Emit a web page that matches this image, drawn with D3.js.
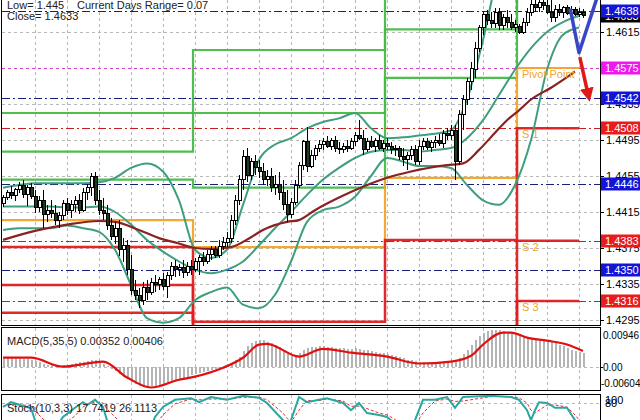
<!DOCTYPE html>
<html><head><meta charset="utf-8">
<script src="https://cdn.jsdelivr.net/npm/d3@7"></script>
<style>
html,body{margin:0;padding:0;background:#fff;}
svg{display:block;font-family:"Liberation Sans",Arial,sans-serif;}
</style></head><body>
<svg id="chart" width="640" height="420"></svg>
<script>
// ---------------- DATA ----------------
const openP = [1.4425,1.4431,1.4437,1.4433,1.4440,1.4444,1.4434,1.4442,1.4432,1.4420,
1.4428,1.4412,1.4417,1.4413,1.4406,1.4411,1.4424,1.4417,1.4423,1.4428,
1.4417,1.4437,1.4442,1.4455,1.4428,1.4417,1.4413,1.4400,1.4388,1.4397,
1.4373,1.4378,1.4351,1.4328,1.4322,1.4317,1.4331,1.4326,1.4337,1.4334,
1.4340,1.4332,1.4344,1.4355,1.4351,1.4353,1.4348,1.4355,1.4351,1.4360,
1.4364,1.4360,1.4368,1.4373,1.4367,1.4377,1.4381,1.4386,1.4406,1.4428,
1.4451,1.4477,1.4456,1.4471,1.4464,1.4460,1.4451,1.4455,1.4442,1.4446,
1.4437,1.4423,1.4412,1.4426,1.4445,1.4467,1.4493,1.4466,1.4478,1.4486,
1.4490,1.4493,1.4488,1.4495,1.4486,1.4484,1.4488,1.4486,1.4493,1.4500,
1.4497,1.4484,1.4493,1.4488,1.4495,1.4486,1.4491,1.4488,1.4484,1.4486,
1.4477,1.4473,1.4478,1.4484,1.4471,1.4488,1.4493,1.4487,1.4492,1.4495,
1.4491,1.4502,1.4500,1.4506,1.4471,1.4523,1.4540,1.4560,1.4573,1.4597,
1.4620,1.4634,1.4628,1.4624,1.4637,1.4622,1.4631,1.4626,1.4620,1.4621,
1.4615,1.4626,1.4637,1.4646,1.4642,1.4648,1.4644,1.4637,1.4631,1.4640,
1.4637,1.4642,1.4636,1.4640,1.4635,1.4637];
const highP = [1.4434,1.4440,1.4444,1.4442,1.4448,1.4451,1.4445,1.4447,1.4440,1.4433,
1.4440,1.4423,1.4428,1.4423,1.4415,1.4428,1.4431,1.4428,1.4433,1.4435,
1.4442,1.4446,1.4458,1.4460,1.4440,1.4431,1.4423,1.4408,1.4404,1.4406,
1.4386,1.4384,1.4367,1.4340,1.4331,1.4337,1.4340,1.4342,1.4345,1.4343,
1.4347,1.4348,1.4360,1.4362,1.4357,1.4362,1.4360,1.4362,1.4364,1.4367,
1.4371,1.4373,1.4377,1.4377,1.4384,1.4387,1.4393,1.4412,1.4434,1.4456,
1.4484,1.4486,1.4475,1.4478,1.4473,1.4469,1.4462,1.4464,1.4456,1.4460,
1.4451,1.4440,1.4431,1.4451,1.4471,1.4495,1.4510,1.4484,1.4490,1.4495,
1.4497,1.4500,1.4497,1.4500,1.4493,1.4492,1.4495,1.4497,1.4504,1.4517,
1.4506,1.4497,1.4500,1.4497,1.4501,1.4495,1.4497,1.4493,1.4490,1.4488,
1.4486,1.4482,1.4488,1.4490,1.4495,1.4497,1.4497,1.4495,1.4500,1.4502,
1.4506,1.4508,1.4512,1.4512,1.4528,1.4545,1.4564,1.4582,1.4604,1.4623,
1.4637,1.4640,1.4637,1.4642,1.4642,1.4635,1.4640,1.4635,1.4628,1.4624,
1.4631,1.4642,1.4651,1.4655,1.4653,1.4657,1.4651,1.4651,1.4645,1.4646,
1.4644,1.4645,1.4644,1.4643,1.4642,1.4641];
const lowP = [1.4421,1.4428,1.4430,1.4427,1.4436,1.4431,1.4422,1.4430,1.4414,1.4415,
1.4397,1.4404,1.4408,1.4401,1.4397,1.4406,1.4412,1.4408,1.4415,1.4413,
1.4415,1.4428,1.4433,1.4423,1.4412,1.4406,1.4395,1.4384,1.4380,1.4366,
1.4360,1.4345,1.4323,1.4317,1.4308,1.4312,1.4317,1.4323,1.4326,1.4328,
1.4328,1.4320,1.4340,1.4343,1.4344,1.4342,1.4344,1.4345,1.4348,1.4345,
1.4355,1.4357,1.4362,1.4364,1.4364,1.4373,1.4376,1.4381,1.4401,1.4423,
1.4440,1.4448,1.4451,1.4456,1.4453,1.4445,1.4444,1.4437,1.4434,1.4428,
1.4417,1.4404,1.4408,1.4423,1.4442,1.4462,1.4460,1.4464,1.4473,1.4482,
1.4484,1.4486,1.4484,1.4482,1.4480,1.4481,1.4482,1.4484,1.4488,1.4495,
1.4478,1.4482,1.4486,1.4482,1.4484,1.4482,1.4484,1.4480,1.4477,1.4473,
1.4466,1.4462,1.4473,1.4467,1.4467,1.4484,1.4484,1.4482,1.4486,1.4488,
1.4486,1.4495,1.4495,1.4451,1.4467,1.4506,1.4534,1.4551,1.4564,1.4593,
1.4612,1.4623,1.4620,1.4620,1.4617,1.4617,1.4620,1.4617,1.4615,1.4613,
1.4613,1.4622,1.4633,1.4637,1.4637,1.4640,1.4635,1.4626,1.4626,1.4633,
1.4631,1.4634,1.4633,1.4633,1.4632,1.4631];
const closeP = [1.4431,1.4437,1.4433,1.4440,1.4444,1.4434,1.4442,1.4432,1.4420,1.4428,
1.4412,1.4417,1.4413,1.4406,1.4411,1.4424,1.4417,1.4423,1.4428,1.4417,
1.4437,1.4442,1.4455,1.4428,1.4417,1.4413,1.4400,1.4388,1.4397,1.4373,
1.4378,1.4351,1.4328,1.4322,1.4317,1.4331,1.4326,1.4337,1.4334,1.4340,
1.4332,1.4344,1.4355,1.4351,1.4353,1.4348,1.4355,1.4351,1.4360,1.4364,
1.4360,1.4368,1.4373,1.4367,1.4377,1.4381,1.4386,1.4406,1.4428,1.4451,
1.4477,1.4456,1.4471,1.4464,1.4460,1.4451,1.4455,1.4442,1.4446,1.4437,
1.4423,1.4412,1.4426,1.4445,1.4467,1.4493,1.4466,1.4478,1.4486,1.4490,
1.4493,1.4488,1.4495,1.4486,1.4484,1.4488,1.4486,1.4493,1.4500,1.4497,
1.4484,1.4493,1.4488,1.4495,1.4486,1.4491,1.4488,1.4484,1.4486,1.4477,
1.4473,1.4478,1.4484,1.4471,1.4488,1.4493,1.4487,1.4492,1.4495,1.4491,
1.4502,1.4500,1.4506,1.4471,1.4523,1.4540,1.4560,1.4575,1.4597,1.4620,
1.4634,1.4628,1.4624,1.4637,1.4622,1.4631,1.4626,1.4620,1.4623,1.4615,
1.4626,1.4637,1.4646,1.4642,1.4648,1.4644,1.4637,1.4631,1.4640,1.4637,
1.4642,1.4636,1.4640,1.4635,1.4637,1.4633];

// Bollinger bands (read at every 4th bar)
const bbIdx = [0,4,8,12,16,20,24,28,32,36,40,44,48,52,56,60,64,68,72,76,80,84,88,92,96,100,104,108,112,116,120,124,128,132,136,140,144];
const bbUpper = [1.4442,1.4445,1.4447,1.4447,1.4447,1.4447,1.4448,1.4453,1.4464,1.4469,1.4460,1.4428,1.4373,1.4364,1.4373,1.4423,1.4473,1.4490,1.4497,1.4508,1.4515,1.4519,1.4525,1.4508,1.4497,1.4498,1.4500,1.4502,1.4506,1.4540,1.4606,1.4684,1.4717,1.4720,1.4715,1.4705,1.4695];
const bbMiddle = [1.4421,1.4421,1.4421,1.4421,1.4420,1.4420,1.4421,1.4415,1.4401,1.4384,1.4371,1.4360,1.4351,1.4347,1.4351,1.4360,1.4378,1.4397,1.4415,1.4434,1.4451,1.4464,1.4475,1.4482,1.4484,1.4484,1.4482,1.4484,1.4486,1.4497,1.4517,1.4545,1.4573,1.4597,1.4615,1.4626,1.4633];
const bbLower = [1.4395,1.4397,1.4397,1.4397,1.4400,1.4397,1.4393,1.4373,1.4334,1.4297,1.4292,1.4297,1.4317,1.4326,1.4331,1.4312,1.4308,1.4323,1.4360,1.4404,1.4417,1.4421,1.4432,1.4455,1.4475,1.4471,1.4466,1.4466,1.4464,1.4445,1.4428,1.4423,1.4445,1.4495,1.4573,1.4612,1.4620];

// Moving average
const maIdx = [0,8,16,24,28,34,39,44,48,52,57,62,65,71,74,78,84,90,96,102,111,115,119,123,126,129,132,137,143];
const maVal = [1.4384,1.4394,1.4401,1.4405,1.4404,1.4395,1.4386,1.4380,1.4375,1.4374,1.4376,1.4387,1.4395,1.4404,1.4406,1.4417,1.4431,1.4443,1.4453,1.4460,1.4467,1.4469,1.4484,1.4503,1.4517,1.4528,1.4540,1.4553,1.4571];

// Daily pivot levels (4 days)
const dayBounds = [-0.75, 47.5, 95.5, 128.5, 144];
const R3 = [1.4525, 1.4595, 1.4690, 1.4760];
const R2 = [1.4482, 1.4525, 1.4618, 1.4710];
const R1 = [1.4451, 1.4442, 1.4564, 1.4675];
const PP = [1.4406, 1.4376, 1.4453, 1.4575];
const S1 = [1.4376, 1.4293, 1.4384, 1.4508];
const S2 = [1.4334, 1.4230, 1.4270, 1.4383];
const S3 = [1.4303, 1.4180, 1.4220, 1.4316];

// Horizontal marker lines
const navyLevels = [1.4638, 1.4542, 1.4446, 1.4350];
const redLevels = [1.4508, 1.4383, 1.4316];
const pivotLevel = [1.4575];

// Price axis
const priceTicks = [1.4615, 1.4575, 1.4535, 1.4495, 1.4455, 1.4415, 1.4375, 1.4335, 1.4295];
const bidPrice = 1.4633;

// Forecast arrows (bar index, price)
const blueArrowIdx = [141.8, 144, 148.8];
const blueArrowPrice = [1.4641, 1.4592, 1.4657];
const redArrowIdx = [144.2, 146.3];
const redArrowPrice = [1.4587, 1.4545];

// MACD
const macdMain = [0.0020,0.0021,0.0022,0.0022,0.0021,0.0020,0.0019,0.0017,
0.0014,0.0011,0.0008,0.0005,0.0003,0.0002,0.0002,0.0003,0.0005,0.0007,0.0009,0.0011,0.0013,0.0015,0.0017,0.0016,0.0013,
0.0008,0.0002,-0.0005,-0.0012,
-0.0019,-0.0026,-0.0033,-0.0040,-0.0046,
-0.0050,-0.0052,-0.0052,-0.0051,-0.0049,-0.0047,-0.0045,
-0.0042,-0.0038,-0.0035,-0.0032,-0.0029,
-0.0026,-0.0022,-0.0019,-0.0016,-0.0013,
-0.0011,-0.0009,-0.0007,-0.0005,-0.0002,
0.0002,0.0008,0.0016,0.0026,
0.0040,0.0052,0.0060,0.0066,0.0070,
0.0068,0.0064,0.0060,0.0055,0.0050,0.0042,
0.0032,0.0028,0.0030,0.0036,
0.0044,0.0049,0.0050,0.0051,0.0052,
0.0052,0.0051,0.0050,0.0049,0.0048,0.0047,0.0046,
0.0046,0.0047,0.0046,0.0044,0.0042,0.0040,0.0038,0.0036,0.0034,
0.0032,0.0030,0.0028,0.0025,0.0021,0.0018,0.0016,0.0014,0.0012,0.0011,0.0010,
0.0010,0.0011,0.0012,0.0013,0.0013,0.0014,0.0013,
0.0022,0.0032,0.0044,0.0056,0.0068,0.0078,0.0086,
0.0091,0.0094,0.0095,0.0094,0.0092,0.0090,
0.0088,0.0085,0.0082,0.0080,0.0077,0.0074,0.0072,0.0070,0.0068,
0.0066,0.0064,0.0060,0.0056,0.0052,0.0048,0.0044,0.0040,0.0037,0.00352];
const sigIdx = [0,7,15,25,31,37,44,48,55,60,64,66,74,80,87,96,104,112,117,120,125,127,131,136,141,145];
const sigVal = [0.0023,0.0023,0.0000,0.0013,-0.0028,-0.0054,-0.0034,-0.0026,-0.0003,0.0023,0.0057,0.0059,0.0026,0.0046,0.0036,0.0026,0.0008,0.0013,0.0028,0.0057,0.0088,0.0088,0.0075,0.0067,0.0057,0.00406];

// Stochastic
const stIdx = [0,2,7,8,10,13,15,18,20,21,23,25,26,29,34,37,38,40,43,47,49,52,56,60,64,66,70,71,72,74,76,79,81,85,87,89,91,94,96,97,99,101,103,105,108,111,113,115,122,127,129,131,132,133,134,136,138,141,143,145];
const stMain = [70,82,67,37,20,15,45,68,82,75,88,70,37,15,8,20,45,70,88,92,82,95,88,98,93,80,37,25,37,95,82,88,92,80,62,80,55,50,45,37,20,18,37,88,88,95,68,95,98,95,88,62,37,62,82,80,68,68,37,17.7419];
const stSignal = [72,76,74,60,40,22,25,48,70,76,82,80,65,35,12,12,25,50,78,90,88,90,90,94,95,88,55,42,32,62,86,86,90,85,72,72,66,55,50,45,32,22,25,55,85,90,84,85,96,96,93,80,62,55,62,75,75,70,50,26.1113];

// ---------------- LAYOUT / STYLE ----------------
const PR = 600;
const C = {grid:"#b8b8b8", navy:"#1c1c80", dred:"#c02020", mag:"#d040d0",
  green:"#46b946", orange:"#f0a428", red:"#e01c1c", teal:"#3e9e7e", brown:"#8b2222",
  bear:"#1e3a1e"};

const svg = d3.select("#chart");
const defs = svg.append("defs");
function clip(id, x, y, w, h){ defs.append("clipPath").attr("id",id).append("rect").attr("x",x).attr("y",y).attr("width",w).attr("height",h); }
clip("cMain", 2, 0, PR-2, 325);
clip("cMacd", 2, 328, PR-2, 62);
clip("cStoch", 2, 395, PR-2, 30);

const x = d3.scaleLinear().domain([0,145]).range([3,583]);
const y = d3.scaleLinear().domain([1.4615,1.4295]).range([32,320]);
const ym = d3.scaleLinear().domain([-0.00604,0.00946]).range([390,330]);
const ys = d3.scaleLinear().domain([0,100]).range([435,395]);

const gridIdx = d3.range(8,146,8);

// ---------- MAIN PANEL ----------
const gm = svg.append("g").attr("clip-path","url(#cMain)");
gm.selectAll(".vg").data(gridIdx).join("line")
  .attr("x1",d=>Math.round(x(d))+0.5).attr("x2",d=>Math.round(x(d))+0.5).attr("y1",0).attr("y2",325)
  .attr("stroke",C.grid).attr("stroke-dasharray","3,3");
gm.selectAll(".hg").data(priceTicks).join("line")
  .attr("x1",2).attr("x2",PR).attr("y1",d=>Math.round(y(d))+0.5).attr("y2",d=>Math.round(y(d))+0.5)
  .attr("stroke",C.grid).attr("stroke-dasharray","3,3");

function hline(levels, color, dash){
  gm.append("g").selectAll("line").data(levels).join("line")
    .attr("x1",2).attr("x2",PR).attr("y1",d=>Math.round(y(d))+0.5).attr("y2",d=>Math.round(y(d))+0.5)
    .attr("stroke",color).attr("stroke-width",1).attr("stroke-dasharray",dash);
}
hline(pivotLevel, C.mag, "3,3");
hline(navyLevels, C.navy, "8,3,2,3");
hline(redLevels, C.dred, "8,3,2,3");

const stepLine = d3.line().x(d=>x(d[0])).y(d=>y(d[1]));
function steps(vals){
  const pts = [];
  vals.forEach((v,k)=>{ pts.push([dayBounds[k],v]); pts.push([dayBounds[k+1],v]); });
  return pts;
}
[[R3,C.green],[R2,C.green],[R1,C.green],[PP,C.orange],[S1,C.red],[S2,C.red],[S3,C.red]].forEach(([vals,col])=>{
  gm.append("path").attr("d",stepLine(steps(vals))).attr("fill","none")
    .attr("stroke",col).attr("stroke-width", col===C.red?2.5:2.2).attr("opacity",0.95);
});

const smooth = d3.line().curve(d3.curveMonotoneX);
function series(idx, vals){ return idx.map((d,k)=>[x(d), y(vals[k])]); }
[bbUpper,bbMiddle,bbLower].forEach(v=>{
  gm.append("path").attr("d",smooth(series(bbIdx,v))).attr("fill","none")
    .attr("stroke",C.teal).attr("stroke-width",2);
});
gm.append("path").attr("d",smooth(series(maIdx,maVal))).attr("fill","none")
  .attr("stroke",C.brown).attr("stroke-width",2.2);

const bars = closeP.map((c,i)=>({i,o:openP[i],h:highP[i],l:lowP[i],c}));
const cg = gm.append("g").attr("shape-rendering","crispEdges");
cg.selectAll(".wick").data(bars).join("line")
  .attr("x1",d=>x(d.i)+0.5).attr("x2",d=>x(d.i)+0.5)
  .attr("y1",d=>y(d.h)).attr("y2",d=>y(d.l)).attr("stroke","#000");
cg.selectAll(".body").data(bars).join("rect")
  .attr("x",d=>x(d.i)-1).attr("width",3)
  .attr("y",d=>y(Math.max(d.o,d.c))).attr("height",d=>Math.max(1,Math.abs(y(d.o)-y(d.c))))
  .attr("fill",d=>d.c>=d.o?"#fff":C.bear).attr("stroke","#000").attr("stroke-width",1);

const lblX = x(dayBounds[3]) + 5;
const pl = gm.append("g").attr("font-size","11px").attr("fill",C.orange);
pl.append("text").attr("x",lblX).attr("y",y(PP[3])+10).text("Pivot Point");
pl.append("text").attr("x",lblX).attr("y",y(S1[3])+10).text("S 1");
pl.append("text").attr("x",lblX).attr("y",y(S2[3])+10).text("S 2");
pl.append("text").attr("x",lblX).attr("y",y(S3[3])+10).text("S 3");

defs.append("marker").attr("id","ah").attr("viewBox","0 0 10 10").attr("refX",5).attr("refY",5)
  .attr("markerWidth",4).attr("markerHeight",4).attr("orient","auto")
  .append("path").attr("d","M0,0L10,5L0,10Z").attr("fill","#e01818");
const lin = d3.line();
gm.append("path").attr("d",lin(blueArrowIdx.map((d,k)=>[x(d),y(blueArrowPrice[k])])))
  .attr("fill","none").attr("stroke","#3a46c4").attr("stroke-width",3.5).attr("stroke-linejoin","round");
gm.append("path").attr("d",lin(redArrowIdx.map((d,k)=>[x(d),y(redArrowPrice[k])])))
  .attr("fill","none").attr("stroke","#e01818").attr("stroke-width",3.5).attr("marker-end","url(#ah)");

const info = svg.append("g").attr("font-size","11px").attr("fill","#222");
info.append("text").attr("x",7).attr("y",9).text("Low= 1.445");
info.append("text").attr("x",77).attr("y",9).text("Current Days Range= 0.07");
info.append("text").attr("x",7).attr("y",20).text("Close= 1.4633");

const ax = svg.append("g").attr("transform",`translate(${PR},0)`)
  .call(d3.axisRight(y).tickValues(priceTicks).tickSize(4).tickPadding(2).tickFormat(d3.format(".4f")));
ax.select(".domain").remove();
ax.selectAll("text").attr("font-size","11px").attr("font-family","Liberation Sans, Arial, sans-serif").attr("fill","#000");

const boxLevels = [bidPrice, navyLevels[0], pivotLevel[0], navyLevels[1], redLevels[0], navyLevels[2], redLevels[1], navyLevels[3], redLevels[2]];
const boxKind = ["bid","navy","pivot","navy","red","navy","red","navy","red"];
const boxFill = {bid:"#000", navy:"#1414d8", pivot:"#f018f0", red:"#e81c1c"};
const bl = svg.append("g");
boxLevels.forEach((v,k)=>{
  const yy = Math.round(y(v));
  bl.append("rect").attr("x",PR+1).attr("y",yy-6.5).attr("width",40).attr("height",13).attr("fill",boxFill[boxKind[k]]);
  bl.append("text").attr("x",PR+5).attr("y",yy+4).attr("font-size","11px").attr("fill","#fff").text(d3.format(".4f")(v));
});

// ---------- MACD PANEL ----------
const gmc = svg.append("g").attr("clip-path","url(#cMacd)");
gmc.selectAll(".vg").data(gridIdx).join("line")
  .attr("x1",d=>Math.round(x(d))+0.5).attr("x2",d=>Math.round(x(d))+0.5).attr("y1",328).attr("y2",391)
  .attr("stroke",C.grid).attr("stroke-dasharray","3,3");
gmc.append("line").attr("x1",2).attr("x2",PR).attr("y1",Math.round(ym(0))+0.5).attr("y2",Math.round(ym(0))+0.5)
  .attr("stroke",C.grid).attr("stroke-dasharray","3,3");
gmc.append("g").attr("shape-rendering","crispEdges").selectAll("rect").data(macdMain).join("rect")
  .attr("x",(d,i)=>x(i)-0.5).attr("width",2)
  .attr("y",d=>Math.min(ym(d),ym(0))).attr("height",d=>Math.abs(ym(d)-ym(0)))
  .attr("fill","#b4b4b4");
gmc.append("path").attr("d",smooth(sigIdx.map((d,k)=>[x(d),ym(sigVal[k])])))
  .attr("fill","none").attr("stroke","#e01010").attr("stroke-width",2.2);
svg.append("text").attr("x",7).attr("y",345).attr("font-size","11px").attr("fill","#222")
  .text("MACD(5,35,5) 0.00352 0.00406");
const mt = svg.append("g").attr("font-size","10px").attr("fill","#000");
mt.append("text").attr("x",PR+3).attr("y",339).text("0.00946");
mt.append("text").attr("x",PR+3).attr("y",Math.round(ym(0))+4).text("0.00");
mt.append("text").attr("x",PR+1).attr("y",387).text("-0.00604");
svg.append("line").attr("x1",PR).attr("x2",PR+3).attr("y1",Math.round(ym(0))+0.5).attr("y2",Math.round(ym(0))+0.5).attr("stroke","#000");

// ---------- STOCH PANEL ----------
const gs = svg.append("g").attr("clip-path","url(#cStoch)");
gs.selectAll(".vg").data(gridIdx).join("line")
  .attr("x1",d=>Math.round(x(d))+0.5).attr("x2",d=>Math.round(x(d))+0.5).attr("y1",395).attr("y2",420)
  .attr("stroke",C.grid).attr("stroke-dasharray","3,3");
gs.append("line").attr("x1",2).attr("x2",PR).attr("y1",Math.round(ys(80))+0.5).attr("y2",Math.round(ys(80))+0.5)
  .attr("stroke",C.grid).attr("stroke-dasharray","3,3");
gs.append("path").attr("d",lin(stIdx.map((d,k)=>[x(d),ys(stSignal[k])])))
  .attr("fill","none").attr("stroke","#e03030").attr("stroke-width",1).attr("stroke-dasharray","3,2");
gs.append("path").attr("d",lin(stIdx.map((d,k)=>[x(d),ys(stMain[k])])))
  .attr("fill","none").attr("stroke","#2aa6a0").attr("stroke-width",2);
svg.append("text").attr("x",7).attr("y",412).attr("font-size","11px").attr("fill","#222")
  .text("Stoch(10,3,3) 17.7419 26.1113");
const st = svg.append("g").attr("font-size","11px").attr("fill","#000");
st.append("text").attr("x",PR+5).attr("y",404).text("100");
st.append("text").attr("x",PR+5).attr("y",407).text("80");

// ---------- FRAMES ----------
const fr = svg.append("g").attr("fill","none").attr("stroke","#000").attr("shape-rendering","crispEdges");
fr.append("rect").attr("x",1.5).attr("y",-1.5).attr("width",PR-1.5).attr("height",326.5);
fr.append("rect").attr("x",1.5).attr("y",327.5).attr("width",PR-1.5).attr("height",63);
fr.append("rect").attr("x",1.5).attr("y",394.5).attr("width",PR-1.5).attr("height",40);
</script>
</body></html>
